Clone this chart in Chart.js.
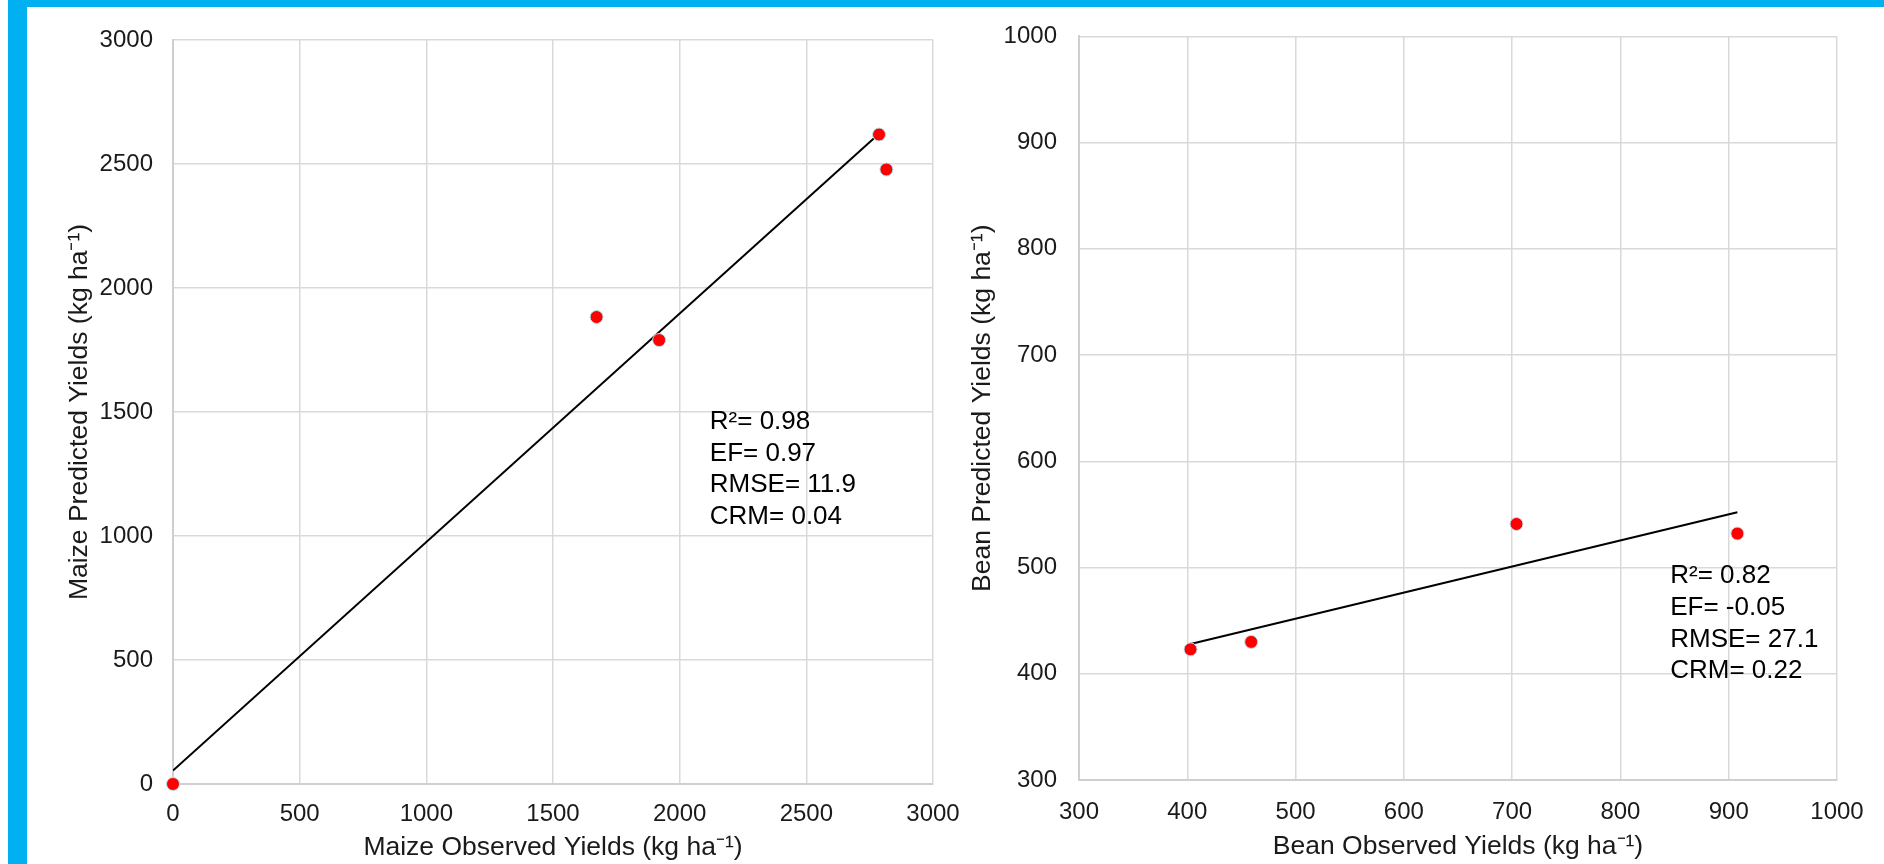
<!DOCTYPE html>
<html>
<head>
<meta charset="utf-8">
<script src="https://cdn.jsdelivr.net/npm/chart.js@4.4.1/dist/chart.umd.min.js"></script>
<style>
  html, body { margin:0; padding:0; background:#fff; }
  body { width:1884px; height:864px; position:relative; overflow:hidden; }
  .bar-top { position:absolute; left:8px; top:0; width:1876px; height:7px; background:#00b0f0; }
  .bar-left { position:absolute; left:8px; top:0; width:19px; height:864px; background:#00b0f0; }
  .panel { position:absolute; top:0; height:864px; }
</style>
</head>
<body>
<div class="bar-top"></div>
<div class="bar-left"></div>
<div class="panel" style="left:0;width:980px"><canvas id="maize"></canvas></div>
<div class="panel" style="left:940px;width:944px"><canvas id="bean"></canvas></div>
<script>
// Maize (left panel)
const maizeObserved  = [0, 1672, 1919, 2787, 2816];
const maizePredicted = [0, 1883, 1790, 2619, 2478];
const maizeFitX = [0, 2790];
const maizeFitY = [54, 2625];
const maizeStats = ["R²= 0.98", "EF= 0.97", "RMSE= 11.9", "CRM= 0.04"];

// Bean (right panel)
const beanObserved  = [403, 459, 704, 908];
const beanPredicted = [423, 430, 541, 532];
const beanFitX = [403, 908];
const beanFitY = [428, 552];
const beanStats = ["R²= 0.82", "EF= -0.05", "RMSE= 27.1", "CRM= 0.22"];

const FONT = "'Liberation Sans', Arial, sans-serif";
const GRID = "#d9d9d9";
const INK = "#1a1a1a";

function pts(xs, ys) { return xs.map((x, i) => ({ x, y: ys[i] })); }

// draws the stats block, anchored in data coords
const statsPlugin = {
  id: "stats",
  afterDatasetsDraw(chart, args, opts) {
    const { ctx, scales } = chart;
    const x = scales.x.getPixelForValue(opts.x);
    let y = scales.y.getPixelForValue(opts.y);
    ctx.save();
    ctx.font = "26px " + FONT;
    ctx.fillStyle = "#000";
    ctx.textBaseline = "middle";
    opts.lines.forEach(t => { ctx.fillText(t, x, y); y += 31.7; });
    ctx.restore();
  }
};

function makeChart(id, cfg) {
  return new Chart(document.getElementById(id), {
    type: "scatter",
    data: {
      datasets: [
        { data: pts(cfg.obs, cfg.pred), backgroundColor: "#ff0000", borderColor: "#b7e1ee",
          borderWidth: 1, pointRadius: 6.5, clip: false, order: 0 },
        { type: "line", data: pts(cfg.fitX, cfg.fitY), borderColor: "#000", borderWidth: 2,
          pointRadius: 0, fill: false, order: 1 }
      ]
    },
    options: {
      responsive: true, maintainAspectRatio: false, animation: false,
      layout: { padding: cfg.pad },
      plugins: { legend: { display: false }, tooltip: { enabled: false },
        stats: { x: cfg.statX, y: cfg.statY, lines: cfg.stats } },
      scales: {
        x: {
          type: "linear", min: cfg.xMin, max: cfg.xMax,
          ticks: { stepSize: cfg.xStep, padding: cfg.xTickPad, color: INK, font: { family: FONT, size: 24 },
            callback: v => String(v) },
          grid: { color: GRID, lineWidth: 1.5, drawTicks: false },
          border: { color: "#cfcfcf", width: 2 },
          title: { display: true, text: cfg.xTitle, color: INK, padding: { top: 0, bottom: cfg.xTitlePad },
            font: { family: FONT, size: 26.5 } },
          afterFit(s) { s.height = cfg.xAxisH; }
        },
        y: {
          type: "linear", min: cfg.yMin, max: cfg.yMax,
          ticks: { stepSize: cfg.yStep, padding: cfg.yTickPad, color: INK, font: { family: FONT, size: 24 },
            callback: v => String(v) },
          grid: { color: GRID, lineWidth: 1.5, drawTicks: false },
          border: { color: "#cfcfcf", width: 2 },
          title: { display: true, text: cfg.yTitle, color: INK, padding: { top: cfg.yTitlePad, bottom: 0 },
            font: { family: FONT, size: 26.5 } },
          afterFit(s) { s.width = cfg.yAxisW; }
        }
      }
    },
    plugins: [statsPlugin]
  });
}

makeChart("maize", {
  obs: maizeObserved, pred: maizePredicted, fitX: maizeFitX, fitY: maizeFitY, stats: maizeStats,
  statX: 2119, statY: 1460,
  xMin: 0, xMax: 3000, xStep: 500, yMin: 0, yMax: 3000, yStep: 500,
  xTitle: "Maize Observed Yields (kg ha⁻¹)", yTitle: "Maize Predicted Yields (kg ha⁻¹)",
  pad: { top: 40, right: 47, bottom: 0, left: 0 },
  yAxisW: 173, xAxisH: 80, xTickPad: 16, yTickPad: 20, xTitlePad: 0, yTitlePad: 64
});

makeChart("bean", {
  obs: beanObserved, pred: beanPredicted, fitX: beanFitX, fitY: beanFitY, stats: beanStats,
  statX: 846, statY: 492,
  xMin: 300, xMax: 1000, xStep: 100, yMin: 300, yMax: 1000, yStep: 100,
  xTitle: "Bean Observed Yields (kg ha⁻¹)", yTitle: "Bean Predicted Yields (kg ha⁻¹)",
  pad: { top: 36, right: 47, bottom: 0, left: 0 },
  yAxisW: 139, xAxisH: 84, xTickPad: 18, yTickPad: 22, xTitlePad: 1, yTitlePad: 27
});
</script>
</body>
</html>
